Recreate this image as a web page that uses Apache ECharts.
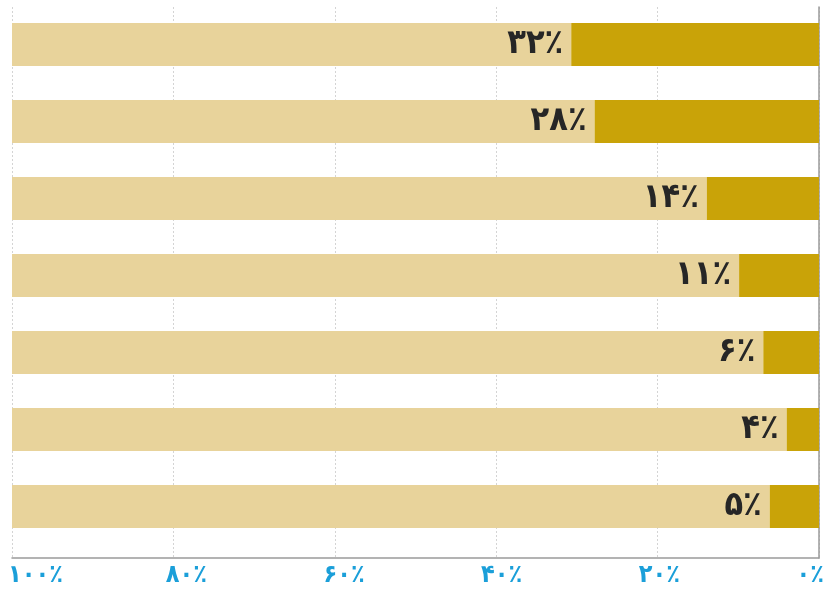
<!DOCTYPE html>
<html>
<head>
<meta charset="utf-8">
<script src="https://cdn.jsdelivr.net/npm/echarts@6/dist/echarts.min.js"></script>
<style>
html,body{margin:0;padding:0;background:#fff;}
#chart{width:827px;height:594px;}
</style>
</head>
<body>
<div id="chart"></div>
<script>
// Data
const categories = ['A', 'B', 'C', 'D', 'E', 'F', 'G'];
const values = [30.7, 27.8, 13.9, 9.9, 6.9, 4.0, 6.1];
const valueLabels = ['۳۲٪', '۲۸٪', '۱۴٪', '۱۱٪', '۶٪', '۴٪', '۵٪'];
const tickValues = [0, 20, 40, 60, 80, 100];
const tickLabels = ['۰٪', '۲۰٪', '۴۰٪', '۶۰٪', '۸۰٪', '۱۰۰٪'];

const rest = values.map(v => 100 - v);
const FONT = '"DejaVu Sans Condensed", "DejaVu Sans", sans-serif';

const chart = echarts.init(document.getElementById('chart'), null, {renderer: 'canvas'});
chart.setOption({
  animation: false,
  backgroundColor: '#ffffff',
  grid: [
    {left: 12, right: 8, top: 7, bottom: 36},
    {left: 12, right: 8, top: 6, height: 539},
    {left: 8, right: 21, top: 7, bottom: 36}
  ],
  xAxis: [
    {
      gridIndex: 0, type: 'value', inverse: true, min: 0, max: 100, interval: 20,
      axisLine: {show: true, lineStyle: {color: '#9a9a9a', width: 1.5}},
      axisTick: {show: false},
      axisLabel: {show: false},
      splitLine: {show: true, lineStyle: {color: '#d4d4d4', type: [2, 2], width: 1}}
    },
    {
      gridIndex: 1, type: 'value', inverse: true, min: 0, max: 100,
      show: false
    },
    {
      gridIndex: 2, type: 'value', inverse: true, min: 0, max: 100, interval: 20,
      axisLine: {show: false}, axisTick: {show: false}, splitLine: {show: false},
      axisLabel: {
        show: true, align: 'left', margin: 5,
        color: '#1b9fd9', fontFamily: FONT, fontWeight: 'bold', fontSize: 25,
        formatter: v => tickLabels[tickValues.indexOf(v)]
      }
    }
  ],
  yAxis: [
    {
      gridIndex: 0, type: 'category', data: categories, position: 'right',
      axisLine: {show: true, lineStyle: {color: '#9a9a9a', width: 1.5}},
      axisTick: {show: false}, axisLabel: {show: false}, splitLine: {show: false}
    },
    {
      gridIndex: 1, type: 'category', data: categories, inverse: true, show: false
    },
    {
      gridIndex: 2, type: 'category', data: categories, show: false
    }
  ],
  series: [
    {
      type: 'bar', xAxisIndex: 1, yAxisIndex: 1, stack: 'total',
      data: values, barWidth: 43,
      itemStyle: {color: '#c9a308'},
      label: {
        show: true, position: 'left', distance: 8,
        color: '#262626', fontFamily: FONT, fontWeight: 'bold', fontSize: 34,
        formatter: p => valueLabels[p.dataIndex]
      },
      z: 3
    },
    {
      type: 'bar', xAxisIndex: 1, yAxisIndex: 1, stack: 'total',
      data: rest, barWidth: 43,
      itemStyle: {color: '#e8d39b'},
      z: 2
    }
  ]
});
</script>
</body>
</html>
